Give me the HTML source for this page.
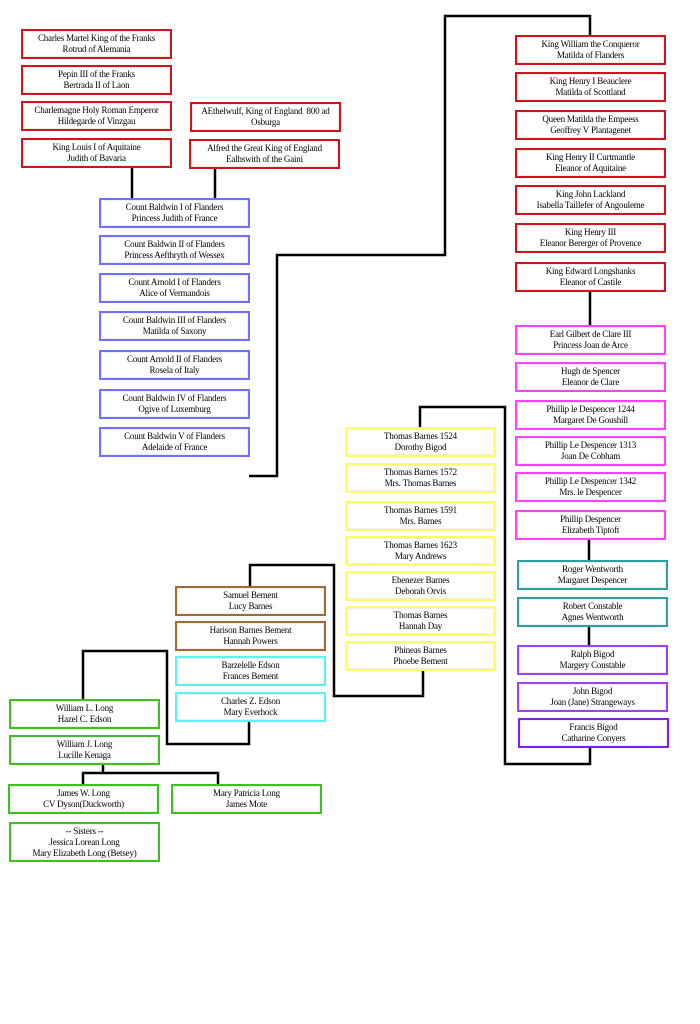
<!DOCTYPE html>
<html><head><meta charset="utf-8"><style>
body{margin:0;background:#fff;width:700px;height:1024px;position:relative;overflow:hidden;font-family:"Liberation Serif",serif;}
.b{position:absolute;box-sizing:border-box;border:2px solid;background:#fff;display:flex;flex-direction:column;justify-content:center;align-items:center;font-size:9px;line-height:11px;color:#000;text-align:center;white-space:nowrap;letter-spacing:-0.2px;box-shadow:inset 0 0 0 1px #eee;}
.r{border-color:#d0141c}.bl{border-color:#7070ff}.m{border-color:#ff40ff}.t{border-color:#2aa0a0}.p{border-color:#a040ff}.pd{border-color:#7a20f0}.y{border-color:#ffff60}.br{border-color:#a06a30}.c{border-color:#60f0f0}.g{border-color:#40c020}
svg{position:absolute;left:0;top:0}
</style></head><body>
<svg width="700" height="1024"><g fill="none" stroke="#000" stroke-width="2.5">
<path d="M132 167V198M215 168V198"/>
<path d="M249 476H277V255H445V16H590V35"/>
<path d="M590 291V325M589 539V560M589 626V645"/>
<path d="M590 747V764H505V407H420V428"/>
<path d="M423 670V696H334V565H250V586"/>
<path d="M249 721V744H167V651H83V699"/>
<path d="M103 764V773M83 784V773H218V784"/>
</g></svg>
<div class="b r" style="left:21px;top:29px;width:151px;height:30px">Charles Martel King of the Franks<br>Rotrud of Alemania</div>
<div class="b r" style="left:21px;top:65px;width:151px;height:30px">Pepin III of the Franks<br>Bertrada II of Laon</div>
<div class="b r" style="left:21px;top:101px;width:151px;height:30px">Charlemagne Holy Roman Emperor<br>Hildegarde of Vinzgau</div>
<div class="b r" style="left:21px;top:138px;width:151px;height:30px">King Louis I of Aquitaine<br>Judith of Bavaria</div>
<div class="b r" style="left:190px;top:102px;width:151px;height:30px">AEthelwulf, King of England &nbsp;800 ad<br>Osburga</div>
<div class="b r" style="left:189px;top:139px;width:151px;height:30px">Alfred the Great King of England<br>Ealhswith of the Gaini</div>
<div class="b bl" style="left:99px;top:198px;width:151px;height:30px">Count Baldwin I of Flanders<br>Princess Judith of France</div>
<div class="b bl" style="left:99px;top:235px;width:151px;height:30px">Count Baldwin II of Flanders<br>Princess Aefthryth of Wessex</div>
<div class="b bl" style="left:99px;top:273px;width:151px;height:30px">Count Arnold I of Flanders<br>Alice of Vermandois</div>
<div class="b bl" style="left:99px;top:311px;width:151px;height:30px">Count Baldwin III of Flanders<br>Matilda of Saxony</div>
<div class="b bl" style="left:99px;top:350px;width:151px;height:30px">Count Arnold II of Flanders<br>Rosela of Italy</div>
<div class="b bl" style="left:99px;top:389px;width:151px;height:30px">Count Baldwin IV of Flanders<br>Ogive of Luxemburg</div>
<div class="b bl" style="left:99px;top:427px;width:151px;height:30px">Count Baldwin V of Flanders<br>Adelaide of France</div>
<div class="b r" style="left:515px;top:35px;width:151px;height:30px">King William the Conqueror<br>Matilda of Flanders</div>
<div class="b r" style="left:515px;top:72px;width:151px;height:30px">King Henry I Beauclere<br>Matilda of Scottland</div>
<div class="b r" style="left:515px;top:110px;width:151px;height:30px">Queen Matilda the Empeess<br>Geoffrey V Plantagenet</div>
<div class="b r" style="left:515px;top:148px;width:151px;height:30px">King Henry II Curtmantle<br>Eleanor of Aquitaine</div>
<div class="b r" style="left:515px;top:185px;width:151px;height:30px">King John Lackland<br>Isabella Taillefer of Angouleme</div>
<div class="b r" style="left:515px;top:223px;width:151px;height:30px">King Henry III<br>Eleanor Bererger of Provence</div>
<div class="b r" style="left:515px;top:262px;width:151px;height:30px">King Edward Longshanks<br>Eleanor of Castile</div>
<div class="b m" style="left:515px;top:325px;width:151px;height:30px">Earl Gilbert de Clare III<br>Princess Joan de Arce</div>
<div class="b m" style="left:515px;top:362px;width:151px;height:30px">Hugh de Spencer<br>Eleanor de Clare</div>
<div class="b m" style="left:515px;top:400px;width:151px;height:30px">Phillip le Despencer 1244<br>Margaret De Goushill</div>
<div class="b m" style="left:515px;top:436px;width:151px;height:30px">Phillip Le Despencer 1313<br>Joan De Cobham</div>
<div class="b m" style="left:515px;top:472px;width:151px;height:30px">Phillip Le Despencer 1342<br>Mrs. le Despencer</div>
<div class="b m" style="left:515px;top:510px;width:151px;height:30px">Phillip Despencer<br>Elizabeth Tiptoft</div>
<div class="b t" style="left:517px;top:560px;width:151px;height:30px">Roger Wentworth<br>Margaret Despencer</div>
<div class="b t" style="left:517px;top:597px;width:151px;height:30px">Robert Constable<br>Agnes Wentworth</div>
<div class="b p" style="left:517px;top:645px;width:151px;height:30px">Ralph Bigod<br>Margery Constable</div>
<div class="b p" style="left:517px;top:682px;width:151px;height:30px">John Bigod<br>Joan (Jane) Strangeways</div>
<div class="b pd" style="left:518px;top:718px;width:151px;height:30px">Francis Bigod<br>Catharine Conyers</div>
<div class="b y" style="left:345px;top:427px;width:151px;height:30px">Thomas Barnes 1524<br>Dorothy Bigod</div>
<div class="b y" style="left:345px;top:463px;width:151px;height:30px">Thomas Barnes 1572<br>Mrs. Thomas Barnes</div>
<div class="b y" style="left:345px;top:501px;width:151px;height:30px">Thomas Barnes 1591<br>Mrs. Barnes</div>
<div class="b y" style="left:345px;top:536px;width:151px;height:30px">Thomas Barnes 1623<br>Mary Andrews</div>
<div class="b y" style="left:345px;top:571px;width:151px;height:30px">Ebenezer Barnes<br>Deborah Orvis</div>
<div class="b y" style="left:345px;top:606px;width:151px;height:30px">Thomas Barnes<br>Hannah Day</div>
<div class="b y" style="left:345px;top:641px;width:151px;height:30px">Phineas Barnes<br>Phoebe Bement</div>
<div class="b br" style="left:175px;top:586px;width:151px;height:30px">Samuel Bement<br>Lucy Barnes</div>
<div class="b br" style="left:175px;top:621px;width:151px;height:30px">Harison Barnes Bement<br>Hannah Powers</div>
<div class="b c" style="left:175px;top:656px;width:151px;height:30px">Barzelelle Edson<br>Frances Bement</div>
<div class="b c" style="left:175px;top:692px;width:151px;height:30px">Charles Z. Edson<br>Mary Everhock</div>
<div class="b g" style="left:9px;top:699px;width:151px;height:30px">William L. Long<br>Hazel C. Edson</div>
<div class="b g" style="left:9px;top:735px;width:151px;height:30px">William J. Long<br>Lucille Kenaga</div>
<div class="b g" style="left:8px;top:784px;width:151px;height:30px">James W. Long<br>CV Dyson(Duckworth)</div>
<div class="b g" style="left:171px;top:784px;width:151px;height:30px">Mary Patricia Long<br>James Mote</div>
<div class="b g" style="left:9px;top:822px;width:151px;height:40px">-- Sisters --<br>Jessica Lorean Long<br>Mary Elizabeth Long (Betsey)</div>
</body></html>
